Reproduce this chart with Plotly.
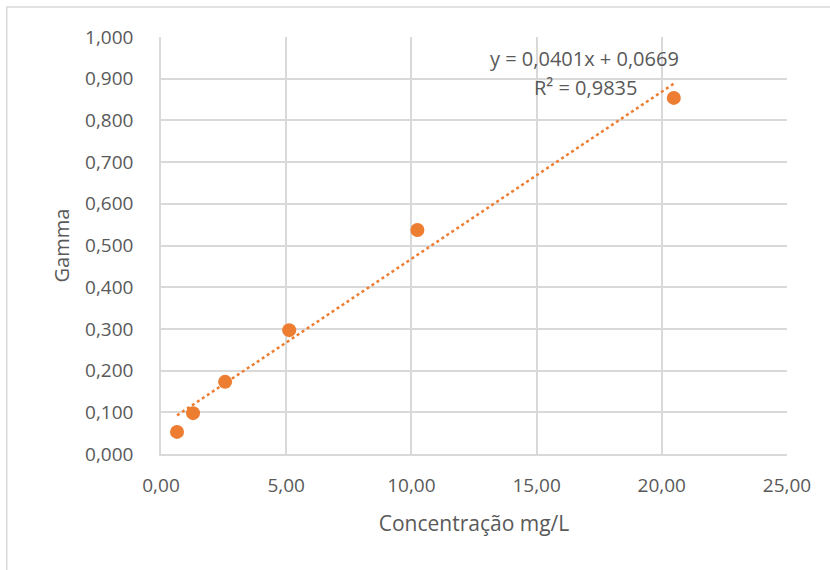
import plotly.graph_objects as go

# Calibration data
concentracao = [0.64, 1.28, 2.56, 5.12, 10.24, 20.48]
gamma = [0.053, 0.098, 0.173, 0.297, 0.537, 0.854]

# Linear trend (as reported)
slope = 0.0401
intercept = 0.0669
r2 = 0.9835

orange = "#ED7D31"
grid = "#D9D9D9"
txt = "#595959"
font_family = "Open Sans"

x_fit = [min(concentracao), max(concentracao)]
y_fit = [slope * v + intercept for v in x_fit]

fig = go.Figure()
fig.add_trace(go.Scatter(
    x=x_fit, y=y_fit, mode="lines",
    line=dict(color=orange, width=2.5, dash="dot"),
    hoverinfo="skip", showlegend=False,
))
fig.add_trace(go.Scatter(
    x=concentracao, y=gamma, mode="markers",
    marker=dict(color=orange, size=14),
    showlegend=False,
))

def fmt(v, nd):
    return f"{v:.{nd}f}".replace(".", ",")

fig.add_annotation(
    x=16.9, y=0.948, xref="x", yref="y", xanchor="center", yanchor="middle",
    text=f"y = {fmt(slope, 4)}x + {fmt(intercept, 4)}", showarrow=False,
    font=dict(family=font_family, size=20, color=txt),
)
fig.add_annotation(
    x=16.95, y=0.879, xref="x", yref="y", xanchor="center", yanchor="middle",
    text=f"R² = {fmt(r2, 4)}", showarrow=False,
    font=dict(family=font_family, size=20, color=txt),
)

# Chart frame
fig.add_shape(
    type="rect", xref="paper", yref="paper",
    x0=-0.2464, x1=1.3, y0=-0.5, y1=1.072,
    line=dict(color=grid, width=1.5), fillcolor="rgba(0,0,0,0)", layer="below",
)

fig.update_layout(
    width=830, height=570,
    margin=dict(l=161, r=43, t=37, b=116),
    paper_bgcolor="white", plot_bgcolor="white",
    separators=",.",
    font=dict(family=font_family, size=20, color=txt),
    xaxis=dict(
        range=[0, 25], dtick=5, tickformat=".2f",
        showgrid=True, gridcolor=grid, gridwidth=1.5,
        showline=True, linecolor=grid, linewidth=1.5, mirror=False,
        zeroline=False, ticks="", ticklen=0, ticklabelstandoff=13,
        title=dict(text="Concentração mg/L", standoff=20,
                   font=dict(family=font_family, size=21, color=txt)),
        tickfont=dict(family=font_family, size=19, color=txt),
    ),
    yaxis=dict(
        range=[0, 1.0], dtick=0.1, tickformat=".3f",
        showgrid=True, gridcolor=grid, gridwidth=1.5,
        showline=True, linecolor=grid, linewidth=1.5,
        zeroline=False, ticks="", ticklen=0, ticklabelstandoff=22,
        title=dict(text="Gamma", standoff=10,
                   font=dict(family=font_family, size=20, color=txt)),
        tickfont=dict(family=font_family, size=19, color=txt),
    ),
)

fig.write_html("out.html")
